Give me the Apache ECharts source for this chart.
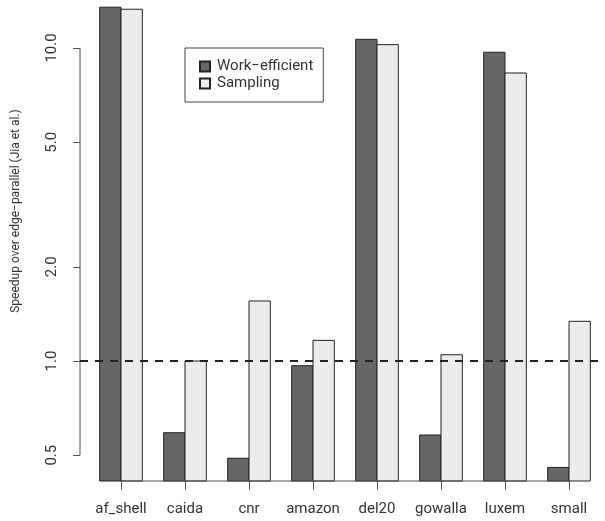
<!DOCTYPE html>
<html>
<head>
<meta charset="utf-8">
<script src="https://cdn.jsdelivr.net/npm/echarts@6/dist/echarts.min.js"></script>
<style>
html,body{margin:0;padding:0;background:#fff;}
#chart{width:605px;height:521px;}
</style>
</head>
<body>
<div id="chart"></div>
<script>
var categories = ['af_shell', 'caida', 'cnr', 'amazon', 'del20', 'gowalla', 'luxem', 'small'];
var workEfficient = [13.5, 0.59, 0.489, 0.966, 10.66, 0.58, 9.69, 0.457];
var sampling = [13.3, 1.0, 1.555, 1.164, 10.25, 1.047, 8.32, 1.339];
var yTicks = [0.5, 1, 2, 5, 10];
var seriesNames = ['Work\u2212efficient', 'Sampling'];
var yTitle = 'Speedup over edge\u2212parallel (Jia et al.)';
var refValue = 1;

var FONT = 'Roboto';
var TXT = '#333';
var LABEL_SIZE = 15;
var chart = echarts.init(document.getElementById('chart'), null, {renderer: 'canvas'});
var yMin = 0.4136, yMax = 14.235;

function barRenderer(slot) {
  return function (params, api) {
    var ci = api.value(0);
    var v = api.value(1);
    var band = api.size([1, 0])[0];
    var w = band / 3;
    var top = api.coord([ci, v]);
    var base = api.coord([ci, yMin]);
    var x = top[0] - w + slot * w;
    return {
      type: 'rect',
      shape: {x: x, y: top[1], width: w, height: base[1] - top[1]},
      style: api.style()
    };
  };
}
function toPairs(arr) { return arr.map(function (v, i) { return [i, v]; }); }

var option = {
  animation: false,
  textStyle: {fontFamily: FONT},
  grid: {left: 89, right: 4, top: 0, bottom: 40, containLabel: false},
  legend: {
    data: seriesNames,
    orient: 'vertical',
    left: 185, top: 48,
    padding: [11, 10, 11, 14],
    borderColor: '#444', borderWidth: 1,
    itemWidth: 10, itemHeight: 10, itemGap: 2,
    textStyle: {fontFamily: FONT, fontSize: LABEL_SIZE, color: TXT, padding: [0, 0, 0, 2]},
    icon: 'rect'
  },
  xAxis: {
    type: 'category',
    data: categories,
    axisLine: {show: false},
    axisTick: {show: true, alignWithLabel: true, length: 9, lineStyle: {color: '#555'}},
    axisLabel: {fontFamily: FONT, fontSize: LABEL_SIZE, color: TXT, margin: 21, interval: 0}
  },
  yAxis: {
    type: 'log',
    logBase: 10,
    min: yMin, max: yMax,
    offset: 9,
    axisLine: {show: false},
    splitLine: {show: false},
    axisTick: {show: true, length: 7, customValues: yTicks, lineStyle: {color: '#555'}},
    axisLabel: {
      customValues: yTicks,
      rotate: 90,
      fontFamily: FONT, fontSize: LABEL_SIZE, color: TXT, margin: 20,
      formatter: function (v) { return Number(v).toFixed(1); }
    }
  },
  series: [
    {
      name: seriesNames[0], type: 'custom', data: toPairs(workEfficient),
      renderItem: barRenderer(0),
      encode: {x: 0, y: 1},
      itemStyle: {color: '#666666', borderColor: '#222', borderWidth: 1}
    },
    {
      name: seriesNames[1], type: 'custom', data: toPairs(sampling),
      renderItem: barRenderer(1),
      encode: {x: 0, y: 1},
      itemStyle: {color: '#ececec', borderColor: '#222', borderWidth: 1}
    }
  ]
};
chart.setOption(option);

var axisX = 80;
var yTop = chart.convertToPixel({yAxisIndex: 0}, yTicks[yTicks.length - 1]);
var yBot = chart.convertToPixel({yAxisIndex: 0}, yTicks[0]);
var yRef = chart.convertToPixel({yAxisIndex: 0}, refValue);
var xFirst = chart.convertToPixel({xAxisIndex: 0}, categories[0]);
var xLast = chart.convertToPixel({xAxisIndex: 0}, categories[categories.length - 1]);
var yBase = chart.convertToPixel({yAxisIndex: 0}, yMin);

chart.setOption({
  graphic: [
    {type: 'line', shape: {x1: axisX, y1: yTop, x2: axisX, y2: yBot}, style: {stroke: '#555', lineWidth: 1}, z: 10},
    {type: 'line', shape: {x1: xFirst, y1: yBase, x2: xLast, y2: yBase}, style: {stroke: '#555', lineWidth: 1}, z: 10},
    {type: 'line', shape: {x1: axisX, y1: yRef, x2: 605, y2: yRef}, style: {stroke: '#222', lineWidth: 2, lineDash: [8, 7]}, z: 20},
    {type: 'text', x: 16, y: 211, rotation: Math.PI / 2,
      style: {text: yTitle, font: '12px ' + FONT, fill: TXT, align: 'center', verticalAlign: 'middle'}}
  ]
});
</script>
</body>
</html>
